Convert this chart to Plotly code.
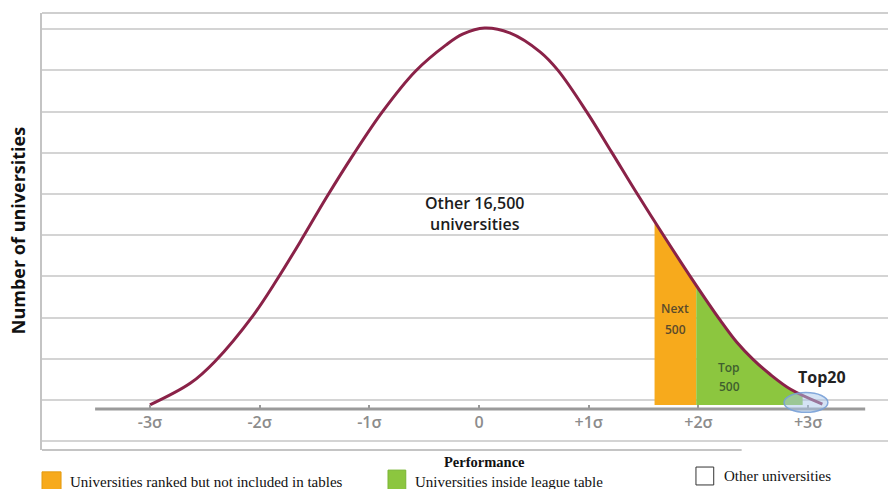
import plotly.graph_objects as go

# ---- data (x in sigma units, y in gridline units) ----
curve_x = [-3.00, -2.63, -2.41, -2.06, -1.84, -1.61, -1.39, -1.14, -0.88, -0.58, -0.30, -0.15, 0.05,
           0.28, 0.556, 0.72, 0.98, 1.21, 1.44, 1.70, 1.94, 2.20, 2.35, 2.50, 2.65, 2.84, 3.13]
curve_y = [-0.12, 0.41, 0.93, 2.05, 2.93, 3.93, 4.92, 5.98, 7.00, 7.98, 8.62, 8.88, 9.03,
           8.91, 8.45, 8.00, 7.00, 6.01, 5.01, 3.92, 2.94, 1.93, 1.40, 0.98, 0.63, 0.26, -0.10]

next500_x = [1.60, 1.70, 1.94, 1.98]
next500_y = [4.34, 3.92, 2.94, 2.78]
top500_x = [1.98, 2.20, 2.35, 2.50, 2.65, 2.84, 2.95]
top500_y = [2.78, 1.93, 1.40, 0.98, 0.63, 0.26, 0.10]
fill_base = -0.12

tick_vals = [-3, -2, -1, 0, 1, 2, 3]
tick_text = ["-3σ", "-2σ", "-1σ", "0", "+1σ", "+2σ", "+3σ"]

legend_labels = ["Universities ranked but not included in tables",
                 "Universities inside league table",
                 "Other universities"]

ORANGE = "#f7aa1c"
GREEN = "#8cc63f"
CURVE = "#8a2248"

fig = go.Figure()

# orange region
fig.add_trace(go.Scatter(x=[next500_x[0], next500_x[-1]], y=[fill_base, fill_base],
                         mode="lines", line=dict(width=0), hoverinfo="skip", showlegend=False))
fig.add_trace(go.Scatter(x=next500_x, y=next500_y, mode="lines", line=dict(width=0),
                         fill="tonexty", fillcolor=ORANGE, showlegend=False))
# green region
fig.add_trace(go.Scatter(x=[top500_x[0], top500_x[-1]], y=[fill_base, fill_base],
                         mode="lines", line=dict(width=0), hoverinfo="skip", showlegend=False))
fig.add_trace(go.Scatter(x=top500_x, y=top500_y, mode="lines", line=dict(width=0, shape="spline"),
                         fill="tonexty", fillcolor=GREEN, showlegend=False))
# bell curve
fig.add_trace(go.Scatter(x=curve_x, y=curve_y, mode="lines",
                         line=dict(color=CURVE, width=3, shape="spline", smoothing=1.0),
                         showlegend=False))

shapes = []
# horizontal axis line
shapes.append(dict(type="line", xref="x", yref="y", x0=-3.50, x1=3.52, y0=-0.22, y1=-0.22,
                   line=dict(color="#9a9a9a", width=3), layer="below"))
# frame top / bottom
shapes.append(dict(type="line", xref="paper", yref="paper", x0=0, x1=1, y0=1, y1=1,
                   line=dict(color="#cfcfcf", width=2)))
shapes.append(dict(type="line", xref="paper", yref="paper", x0=0, x1=0.827, y0=0, y1=0,
                   line=dict(color="#c4c4c4", width=2)))
# Top 20 ellipse
shapes.append(dict(type="circle", xref="x", yref="y", x0=2.78, x1=3.18, y0=-0.30, y1=0.18,
                   fillcolor="rgba(170,200,235,0.5)", line=dict(color="rgba(120,160,215,0.9)", width=1.5)))
# legend boxes
shapes.append(dict(type="rect", xref="paper", yref="paper", x0=0.0, x1=0.0225, y0=-0.098, y1=-0.050,
                   fillcolor=ORANGE, line=dict(color="#e39a10", width=1)))
shapes.append(dict(type="rect", xref="paper", yref="paper", x0=0.409, x1=0.430, y0=-0.098, y1=-0.046,
                   fillcolor=GREEN, line=dict(color="#7ab535", width=1)))
shapes.append(dict(type="rect", xref="paper", yref="paper", x0=0.773, x1=0.794, y0=-0.080, y1=-0.039,
                   fillcolor="white", line=dict(color="#333333", width=1)))

lab = dict(family="Open Sans", size=16, color="#1c1c1c", weight=600)
small_o = dict(family="Open Sans", size=12, color="#5b4b2b", weight=600)
small_g = dict(family="Open Sans", size=12, color="#3f5f2f", weight=600)
annotations = [
    dict(x=-0.04, y=4.53, xref="x", yref="y", text="Other 16,500<br>universities", showarrow=False,
         font=lab),
    dict(x=1.79, y=2.21, xref="x", yref="y", text="Next", showarrow=False, font=small_o),
    dict(x=1.79, y=1.72, xref="x", yref="y", text="500", showarrow=False, font=small_o),
    dict(x=2.28, y=0.80, xref="x", yref="y", text="Top", showarrow=False, font=small_g),
    dict(x=2.28, y=0.32, xref="x", yref="y", text="500", showarrow=False, font=small_g),
    dict(x=3.13, y=0.55, xref="x", yref="y", text="Top20", showarrow=False,
         font=dict(family="Open Sans", size=16, color="#222222", weight=700)),
    dict(x=-0.0284, y=0.503, xref="paper", yref="paper", text="Number of universities", textangle=-90,
         xanchor="center", yanchor="middle",
         showarrow=False, font=dict(family="Open Sans", size=18, color="#111111", weight=700)),
    dict(x=0.5225, y=-0.0275, xref="paper", yref="paper", text="Performance", showarrow=False,
         xanchor="center", yanchor="middle",
         font=dict(family="Liberation Serif", size=14.5, color="#111111", weight=700)),
    dict(x=0.0307, y=-0.0732, xref="paper", yref="paper", text=legend_labels[0], xanchor="left",
         yanchor="middle",
         showarrow=False, font=dict(family="Liberation Serif", size=15, color="#111111")),
    dict(x=0.438, y=-0.0732, xref="paper", yref="paper", text=legend_labels[1], xanchor="left",
         yanchor="middle",
         showarrow=False, font=dict(family="Liberation Serif", size=15, color="#111111")),
    dict(x=0.804, y=-0.060, xref="paper", yref="paper", text=legend_labels[2], xanchor="left",
         yanchor="middle",
         showarrow=False, font=dict(family="Liberation Serif", size=15, color="#111111")),
]

fig.update_layout(
    width=888, height=489,
    margin=dict(l=42, r=0, t=13, b=39),
    paper_bgcolor="white", plot_bgcolor="white",
    shapes=shapes, annotations=annotations,
    xaxis=dict(range=[-3.984, 3.728], showgrid=False, zeroline=False, showline=False,
               tickvals=tick_vals, ticktext=tick_text, ticks="inside", ticklen=4, tickwidth=2,
               tickcolor="#9a9a9a", anchor="free", position=0.0938, ticklabelstandoff=2,
               tickfont=dict(family="Open Sans", size=16, color="#8c8c8c", weight=600)),
    yaxis=dict(range=[-1.214, 9.393], tick0=0, dtick=1, showgrid=True, gridcolor="#d4d4d4",
               gridwidth=2, zeroline=False, showticklabels=False, showline=True,
               linecolor="#c4c4c4", linewidth=2),
)

fig.write_html("out.html", config={"displayModeBar": False},
               post_script="document.body.style.margin='0';document.body.style.overflow='hidden';")
